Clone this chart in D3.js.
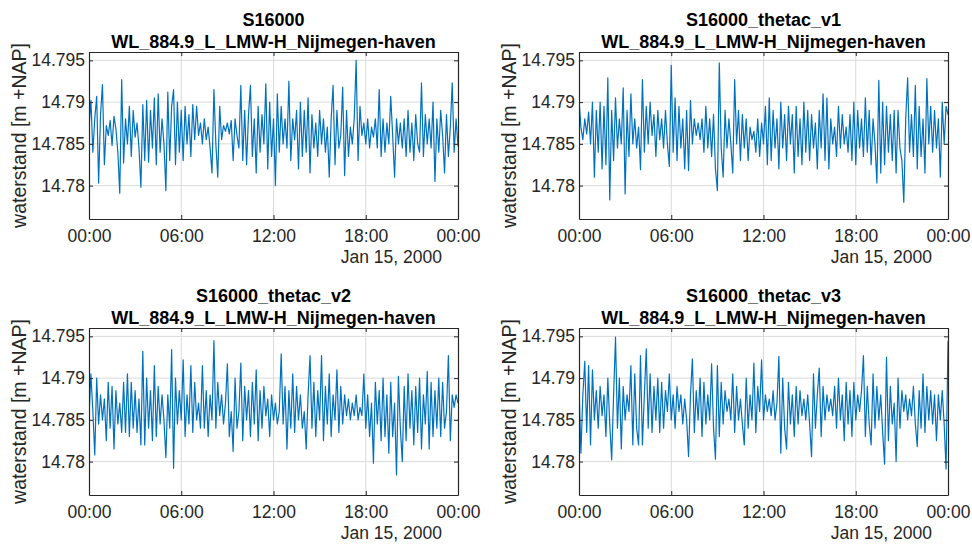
<!DOCTYPE html>
<html>
<head>
<meta charset="utf-8">
<script src="https://cdn.jsdelivr.net/npm/d3@7"></script>
<style>
body{margin:0;background:#fff}
text{font-family:"Liberation Sans",Arial,sans-serif}
</style>
</head>
<body>
<div id="chart"></div>
<script>
// waterstand Nijmegen-haven, 4 runs

titles=["S16000","S16000_thetac_v1","S16000_thetac_v2","S16000_thetac_v3"];
station="WL_884.9_L_LMW-H_Nijmegen-haven";
yLabel="waterstand [m +NAP]";
dateLabel="Jan 15, 2000";
yTicks=[14.78,14.785,14.79,14.795];
yTickLabels=["14.78","14.785","14.79","14.795"];
xTickHours=[0,6,12,18,24];
xTickLabels=["00:00","06:00","12:00","18:00","00:00"];
t0=new Date(2000,0,15,0,0);
stepMin=7.5;

s16000=[14.7870,14.7902,14.7840,14.7880,14.7907,14.7803,14.7885,14.7921,14.7825,14.7872,
14.7860,14.7878,14.7848,14.7883,14.7868,14.7840,14.7791,14.7927,14.7827,14.7880,
14.7850,14.7895,14.7835,14.7890,14.7858,14.7875,14.7845,14.7798,14.7897,14.7830,
14.7902,14.7828,14.7890,14.7845,14.7905,14.7825,14.7910,14.7840,14.7880,14.7850,
14.7794,14.7912,14.7830,14.7895,14.7915,14.7825,14.7900,14.7840,14.7890,14.7830,
14.7895,14.7850,14.7885,14.7835,14.7897,14.7855,14.7895,14.7860,14.7875,14.7850,
14.7880,14.7855,14.7870,14.7845,14.7815,14.7915,14.7850,14.7810,14.7895,14.7855,
14.7872,14.7865,14.7875,14.7862,14.7878,14.7830,14.7880,14.7860,14.7845,14.7920,
14.7830,14.7890,14.7825,14.7885,14.7920,14.7835,14.7880,14.7815,14.7895,14.7840,
14.7885,14.7850,14.7922,14.7820,14.7900,14.7835,14.7880,14.7800,14.7910,14.7840,
14.7895,14.7850,14.7880,14.7845,14.7925,14.7830,14.7880,14.7855,14.7890,14.7820,
14.7900,14.7835,14.7890,14.7840,14.7905,14.7815,14.7885,14.7845,14.7875,14.7835,
14.7890,14.7850,14.7880,14.7840,14.7870,14.7810,14.7880,14.7920,14.7825,14.7890,
14.7845,14.7860,14.7918,14.7812,14.7890,14.7835,14.7870,14.7850,14.7880,14.7950,
14.7830,14.7895,14.7860,14.7875,14.7850,14.7880,14.7845,14.7870,14.7858,14.7880,
14.7845,14.7915,14.7835,14.7880,14.7840,14.7875,14.7850,14.7907,14.7860,14.7810,
14.7880,14.7850,14.7875,14.7845,14.7880,14.7835,14.7890,14.7840,14.7875,14.7830,
14.7885,14.7850,14.7840,14.7923,14.7835,14.7885,14.7850,14.7880,14.7845,14.7900,
14.7805,14.7880,14.7840,14.7890,14.7860,14.7815,14.7885,14.7835,14.7870,14.7923,
14.7840,14.7880,14.7847];

thetacV1=[14.7903,14.7870,14.7855,14.7880,14.7862,14.7888,14.7850,14.7900,14.7810,14.7890,
14.7840,14.7900,14.7820,14.7895,14.7825,14.7929,14.7783,14.7890,14.7830,14.7905,
14.7845,14.7880,14.7850,14.7917,14.7790,14.7890,14.7835,14.7910,14.7850,14.7880,
14.7845,14.7870,14.7819,14.7927,14.7840,14.7895,14.7850,14.7900,14.7860,14.7885,
14.7835,14.7890,14.7855,14.7880,14.7845,14.7890,14.7850,14.7823,14.7944,14.7840,
14.7905,14.7830,14.7895,14.7845,14.7880,14.7820,14.7890,14.7818,14.7902,14.7850,
14.7880,14.7860,14.7875,14.7855,14.7880,14.7840,14.7895,14.7845,14.7880,14.7835,
14.7885,14.7820,14.7794,14.7947,14.7845,14.7810,14.7890,14.7845,14.7880,14.7850,
14.7815,14.7927,14.7850,14.7890,14.7830,14.7885,14.7845,14.7880,14.7830,14.7870,
14.7855,14.7865,14.7840,14.7880,14.7835,14.7875,14.7850,14.7895,14.7825,14.7905,
14.7830,14.7890,14.7845,14.7880,14.7820,14.7900,14.7845,14.7885,14.7830,14.7895,
14.7850,14.7885,14.7815,14.7895,14.7835,14.7880,14.7825,14.7900,14.7840,14.7890,
14.7830,14.7885,14.7845,14.7875,14.7820,14.7890,14.7845,14.7910,14.7830,14.7905,
14.7820,14.7880,14.7850,14.7870,14.7835,14.7895,14.7845,14.7885,14.7850,14.7870,
14.7840,14.7885,14.7830,14.7900,14.7825,14.7890,14.7845,14.7880,14.7835,14.7905,
14.7840,14.7890,14.7825,14.7880,14.7850,14.7803,14.7926,14.7815,14.7900,14.7825,
14.7895,14.7840,14.7885,14.7830,14.7890,14.7815,14.7890,14.7845,14.7830,14.7780,
14.7880,14.7929,14.7840,14.7885,14.7835,14.7920,14.7820,14.7895,14.7835,14.7880,
14.7815,14.7928,14.7850,14.7895,14.7840,14.7890,14.7845,14.7880,14.7810,14.7900,
14.7850,14.7895,14.7885];

thetacV2=[14.7855,14.7905,14.7860,14.7808,14.7900,14.7845,14.7880,14.7850,14.7875,14.7825,
14.7895,14.7840,14.7890,14.7815,14.7885,14.7845,14.7870,14.7835,14.7895,14.7835,
14.7905,14.7830,14.7895,14.7840,14.7885,14.7835,14.7875,14.7820,14.7932,14.7820,
14.7900,14.7840,14.7885,14.7825,14.7915,14.7830,14.7890,14.7845,14.7880,14.7850,
14.7805,14.7880,14.7840,14.7934,14.7792,14.7900,14.7845,14.7885,14.7850,14.7922,
14.7830,14.7880,14.7845,14.7915,14.7835,14.7895,14.7850,14.7870,14.7840,14.7915,
14.7840,14.7885,14.7830,14.7880,14.7850,14.7945,14.7840,14.7895,14.7855,14.7880,
14.7845,14.7870,14.7917,14.7830,14.7860,14.7812,14.7900,14.7840,14.7860,14.7918,
14.7825,14.7890,14.7850,14.7885,14.7830,14.7895,14.7845,14.7910,14.7825,14.7885,
14.7840,14.7890,14.7855,14.7875,14.7830,14.7880,14.7850,14.7870,14.7845,14.7860,
14.7929,14.7845,14.7890,14.7815,14.7885,14.7840,14.7905,14.7835,14.7890,14.7850,
14.7880,14.7840,14.7860,14.7815,14.7880,14.7927,14.7840,14.7895,14.7830,14.7885,
14.7850,14.7927,14.7825,14.7890,14.7845,14.7905,14.7830,14.7880,14.7850,14.7910,
14.7835,14.7890,14.7845,14.7880,14.7855,14.7875,14.7850,14.7870,14.7855,14.7880,
14.7850,14.7865,14.7855,14.7905,14.7840,14.7880,14.7830,14.7870,14.7798,14.7895,
14.7845,14.7885,14.7825,14.7900,14.7830,14.7880,14.7810,14.7895,14.7830,14.7870,
14.7784,14.7902,14.7840,14.7800,14.7890,14.7825,14.7905,14.7840,14.7885,14.7820,
14.7890,14.7835,14.7900,14.7815,14.7880,14.7845,14.7908,14.7815,14.7895,14.7830,
14.7885,14.7840,14.7900,14.7830,14.7895,14.7840,14.7860,14.7927,14.7825,14.7880,
14.7865,14.7880,14.7870];

thetacV3=[14.7890,14.7810,14.7880,14.7920,14.7835,14.7915,14.7820,14.7910,14.7850,14.7885,
14.7840,14.7890,14.7855,14.7880,14.7830,14.7900,14.7845,14.7802,14.7880,14.7949,
14.7840,14.7900,14.7815,14.7890,14.7850,14.7880,14.7860,14.7915,14.7820,14.7905,
14.7840,14.7820,14.7927,14.7820,14.7880,14.7935,14.7840,14.7905,14.7835,14.7890,
14.7850,14.7900,14.7835,14.7895,14.7840,14.7885,14.7860,14.7905,14.7850,14.7880,
14.7840,14.7890,14.7860,14.7880,14.7845,14.7875,14.7850,14.7806,14.7880,14.7923,
14.7835,14.7885,14.7850,14.7900,14.7830,14.7895,14.7845,14.7880,14.7850,14.7917,
14.7840,14.7803,14.7915,14.7830,14.7895,14.7845,14.7885,14.7860,14.7875,14.7850,
14.7905,14.7835,14.7890,14.7850,14.7875,14.7845,14.7820,14.7900,14.7840,14.7880,
14.7850,14.7918,14.7835,14.7890,14.7860,14.7922,14.7850,14.7880,14.7860,14.7875,
14.7855,14.7885,14.7850,14.7870,14.7926,14.7810,14.7900,14.7840,14.7815,14.7895,
14.7845,14.7880,14.7830,14.7890,14.7845,14.7885,14.7855,14.7875,14.7850,14.7880,
14.7845,14.7806,14.7905,14.7840,14.7880,14.7912,14.7830,14.7890,14.7850,14.7880,
14.7860,14.7875,14.7855,14.7890,14.7840,14.7900,14.7850,14.7880,14.7825,14.7895,
14.7845,14.7885,14.7830,14.7895,14.7850,14.7880,14.7860,14.7885,14.7927,14.7830,
14.7890,14.7845,14.7820,14.7905,14.7840,14.7890,14.7850,14.7880,14.7835,14.7797,
14.7925,14.7825,14.7890,14.7845,14.7870,14.7800,14.7900,14.7840,14.7885,14.7860,
14.7880,14.7850,14.7875,14.7855,14.7890,14.7845,14.7818,14.7885,14.7840,14.7905,
14.7835,14.7890,14.7850,14.7885,14.7845,14.7880,14.7825,14.7880,14.7850,14.7885,
14.7845,14.7791,14.7944];

series=[s16000,thetacV1,thetacV2,thetacV3];

// layout

w=972;h=548;
pw=369;ph=167;
pos=[[89,52],[579,52],[89,328],[579,328]];
axCol="#262626";
blue="#0072BD";

var svg=d3.select("#chart").append("svg").attr("width",w).attr("height",h);

var hr=function(n) {return new Date(t0.getTime()+n*3600000);}
var x=d3.scaleTime().domain([hr(0),hr(24)]).range([0,pw]);
var y=d3.scaleLinear().domain([14.776,14.796]).range([ph,0]);
var line=d3.line()
	.x(function(d,i) {return x(new Date(t0.getTime()+i*stepMin*60000));})
	.y(function(d) {return y(d);});

svg.append("defs").append("clipPath").attr("id","clip")
	.append("rect").attr("width",pw).attr("height",ph);

series.forEach(function(s,k) {
	var g=svg.append("g").attr("transform","translate("+pos[k][0]+","+pos[k][1]+")");

	// grid
	g.selectAll(".gx").data(xTickHours.slice(1,-1)).enter().append("line")
		.attr("x1",function(d) {return x(hr(d));}).attr("x2",function(d) {return x(hr(d));})
		.attr("y1",0).attr("y2",ph)
		.style("stroke","#dadada").style("stroke-width",1);
	g.selectAll(".gy").data(yTicks).enter().append("line")
		.attr("x1",0).attr("x2",pw)
		.attr("y1",function(d) {return y(d);}).attr("y2",function(d) {return y(d);})
		.style("stroke","#dadada").style("stroke-width",1);

	// series
	g.append("path").datum(s)
		.attr("d",line)
		.attr("clip-path","url(#clip)")
		.style("fill","none").style("stroke",blue).style("stroke-width",1.2)
		.style("stroke-linejoin","round");

	// axes
	var xb=d3.axisBottom(x).tickValues(xTickHours.map(hr))
		.tickFormat(function(d,i) {return xTickLabels[i];})
		.tickSizeInner(-4).tickSizeOuter(0).tickPadding(11);
	var yl=d3.axisLeft(y).tickValues(yTicks)
		.tickFormat(function(d,i) {return yTickLabels[i];})
		.tickSizeInner(-4).tickSizeOuter(0).tickPadding(4);
	var xt=d3.axisTop(x).tickValues(xTickHours.map(hr)).tickFormat("").tickSizeInner(-4).tickSizeOuter(0);
	var yr=d3.axisRight(y).tickValues(yTicks).tickFormat("").tickSizeInner(-4).tickSizeOuter(0);

	var ax=[
		g.append("g").attr("transform","translate(0,"+ph+")").call(xb),
		g.append("g").call(yl),
		g.append("g").call(xt),
		g.append("g").attr("transform","translate("+pw+",0)").call(yr)
	];
	ax.forEach(function(a) {
		a.select(".domain").style("stroke",axCol).style("stroke-width",1.2);
		a.selectAll(".tick line").style("stroke",axCol).style("stroke-width",1);
		a.selectAll("text").style("font-size","17.5px").style("fill",axCol).style("font-family",null);
	});

	// date under the time axis
	g.append("text").attr("x",pw-16).attr("y",ph+44)
		.attr("text-anchor","end").style("font-size","17.5px").style("fill",axCol)
		.text(dateLabel);

	g.append("text")
		.attr("transform","translate(-70,"+(ph/2)+") rotate(-90)")
		.attr("dy","0.35em")
		.attr("text-anchor","middle").style("font-size","19.5px").style("fill",axCol)
		.text(yLabel);

	// titles
	g.append("text").attr("x",pw/2).attr("y",-26.5)
		.attr("text-anchor","middle").style("font-size","18px").style("font-weight","bold").style("fill","#000")
		.text(titles[k]);
	g.append("text").attr("x",pw/2).attr("y",-4.5)
		.attr("text-anchor","middle").style("font-size","18px").style("font-weight","bold").style("fill","#000")
		.text(station);
});
</script>
</body>
</html>
